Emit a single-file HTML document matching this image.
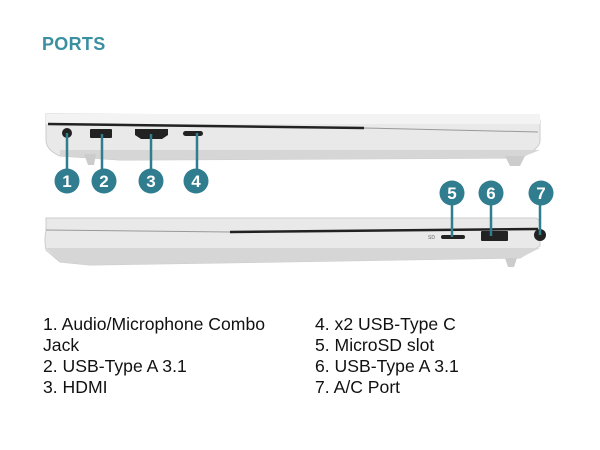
<!DOCTYPE html>
<html><head><style>
body{margin:0;width:600px;height:450px;background:#fff;overflow:hidden;position:relative;font-family:"Liberation Sans",sans-serif}
.t{position:absolute;left:42px;top:34px;color:#3a8fa0;font-weight:bold;font-size:18px;letter-spacing:0.3px}
.col{position:absolute;top:314px;font-size:17.6px;line-height:21px;color:#111}
</style></head><body>
<div class="t">PORTS</div>
<svg width="600" height="450" style="position:absolute;left:0;top:0">
<path d="M46 114 L536 116 Q541 118 540 124 L540 142 Q538 150 520 158 L120 160 L60 156 Q46 150 46 140 Z" fill="#e9e9e9" stroke="#ccc"/>
<rect x="46" y="114" width="494" height="10" fill="#f3f3f3"/>
<line x1="48" y1="124" x2="364" y2="128" stroke="#222" stroke-width="2.5"/>
<line x1="364" y1="128" x2="538" y2="132" stroke="#999" stroke-width="1"/>
<path d="M60 150 L540 150 L520 158 L120 160 L60 156Z" fill="#d6d6d6"/>
<path d="M84 154 L96 154 L94 165 L88 165Z" fill="#ccc"/>
<path d="M505 156 L525 156 L520 166 L510 166Z" fill="#ccc"/>
<circle cx="67" cy="133" r="5" fill="#222"/>
<rect x="90" y="129" width="22" height="9" rx="1" fill="#222"/>
<path d="M135 129 L168 129 L168 135 L162 139 L141 139 L135 135Z" fill="#222"/>
<rect x="183" y="131" width="20" height="5" rx="2.5" fill="#222"/>
<path d="M46 218 L536 218 Q541 220 540 226 L540 246 L520 258 L90 265 L60 262 L46 250 Q44 240 46 230Z" fill="#e9e9e9" stroke="#ccc"/>
<line x1="46" y1="230" x2="230" y2="232" stroke="#999" stroke-width="1"/>
<line x1="230" y1="232" x2="538" y2="229" stroke="#222" stroke-width="2.5"/>
<path d="M46 248 L540 248 L520 258 L90 265 L60 262Z" fill="#d6d6d6"/>
<path d="M505 258 L517 258 L514 267 L508 267Z" fill="#ccc"/>
<text x="428" y="239" font-size="5" fill="#666">SD</text>
<rect x="441" y="235" width="24" height="4" rx="2" fill="#222"/>
<rect x="481" y="231" width="27" height="10" rx="1" fill="#222"/>
<circle cx="540" cy="235" r="6" fill="#222"/>
<g stroke="#2f7d8e" stroke-width="2.5">
<line x1="67" y1="133" x2="67" y2="172"/><line x1="102" y1="134" x2="102" y2="172"/>
<line x1="151" y1="134" x2="151" y2="172"/><line x1="197" y1="133" x2="197" y2="172"/>
<line x1="452" y1="205" x2="452" y2="237"/><line x1="491" y1="205" x2="491" y2="236"/>
<line x1="540" y1="205" x2="540" y2="235"/>
</g>
<g fill="#2f7d8e">
<circle cx="67" cy="181" r="12.5"/><circle cx="104" cy="181" r="12.5"/>
<circle cx="151" cy="181" r="12.5"/><circle cx="196" cy="181" r="12.5"/>
<circle cx="452" cy="193" r="12.5"/><circle cx="491" cy="193" r="12.5"/>
<circle cx="541" cy="193" r="12.5"/>
</g>
<g fill="#fff" font-size="17" font-weight="bold" text-anchor="middle" font-family="Liberation Sans">
<text x="67" y="187">1</text><text x="104" y="187">2</text><text x="151" y="187">3</text><text x="196" y="187">4</text>
<text x="452" y="199">5</text><text x="491" y="199">6</text><text x="541" y="199">7</text>
</g>
</svg>
<div class="col" style="left:43px">1. Audio/Microphone Combo<br>Jack<br>2. USB-Type A 3.1<br>3. HDMI</div>
<div class="col" style="left:315px">4. x2 USB-Type C<br>5. MicroSD slot<br>6. USB-Type A 3.1<br>7. A/C Port</div>
</body></html>
